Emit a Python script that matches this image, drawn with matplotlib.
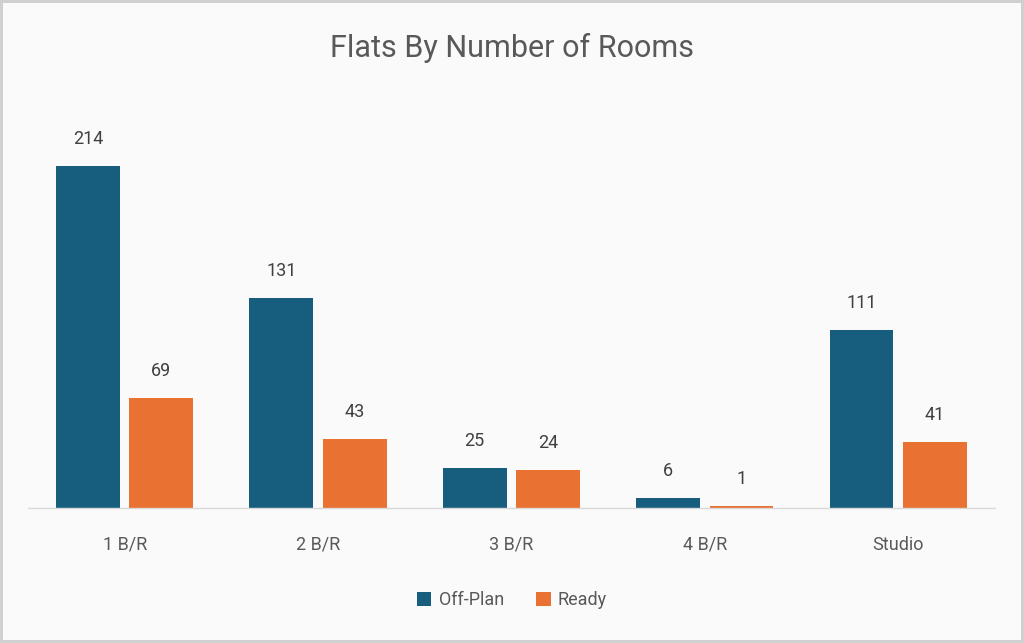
import numpy as np
import matplotlib.pyplot as plt

categories = ['1 B/R', '2 B/R', '3 B/R', '4 B/R', 'Studio']
off_plan = [214, 131, 25, 6, 111]
ready = [69, 43, 24, 1, 41]

blue = '#175e7e'
orange = '#e97132'
text_col = '#595959'

plt.rcParams['font.family'] = ['Roboto', 'DejaVu Sans']

fig = plt.figure(figsize=(10.24, 6.43), dpi=100)
fig.patch.set_facecolor('#fafafa')
fig.patch.set_edgecolor('#d0d0d0')
fig.patch.set_linewidth(3)

ax = fig.add_axes([0.0273, 0.21, 0.9443, 0.597])
ax.set_facecolor('#fafafa')

x = np.arange(len(categories))
w = 0.33
b1 = ax.bar(x - 0.19, off_plan, w, color=blue, label='Off-Plan')
b2 = ax.bar(x + 0.19, ready, w, color=orange, label='Ready')

for bars in (b1, b2):
    for r in bars:
        ax.annotate(str(int(r.get_height())), (r.get_x() + r.get_width() / 2, r.get_height()),
                    xytext=(0, 13), textcoords='offset points', ha='center', va='bottom',
                    fontsize=13, color='#404040')

ax.set_xlim(-0.5, 4.5)
ax.set_ylim(0, 240)
ax.set_xticks(x)
ax.set_xticklabels(categories, fontsize=13, color=text_col)
ax.tick_params(axis='x', length=0, pad=20)
ax.set_yticks([])
for s in ['top', 'right', 'left']:
    ax.spines[s].set_visible(False)
ax.spines['bottom'].set_color('#d9d9d9')
ax.spines['bottom'].set_linewidth(1)

fig.text(0.5, 0.925, 'Flats By Number of Rooms', ha='center', va='center', fontsize=22,
         color=text_col)

fig.legend(loc='center', bbox_to_anchor=(0.5, 0.067), ncol=2, frameon=False,
           fontsize=13, labelcolor=text_col, handlelength=0.8, handleheight=0.8,
           handletextpad=0.4, columnspacing=1.8)

fig.savefig('out.png', dpi=100, facecolor=fig.get_facecolor(), edgecolor=fig.get_edgecolor())
